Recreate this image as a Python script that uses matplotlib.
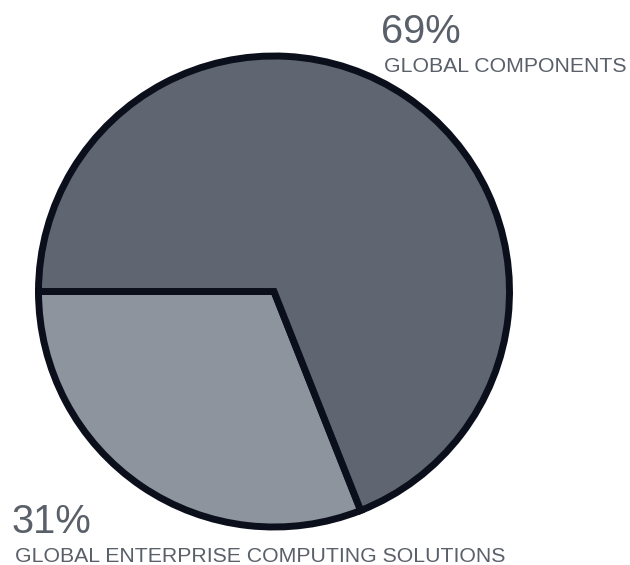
import matplotlib.pyplot as plt

# shares, in drawing order (counter-clockwise from 9 o'clock)
segments = ['GLOBAL ENTERPRISE COMPUTING SOLUTIONS', 'GLOBAL COMPONENTS']
shares = [31, 69]
pct_labels = ['31%', '69%']
colors = ['#8e949d', '#5f6571']

W, H = 630, 565
fig = plt.figure(figsize=(W / 100, H / 100), dpi=100)
ax = fig.add_axes([0, 0, 1, 1])

ax.pie(shares, colors=colors, startangle=180, counterclock=True,
       center=(274, H - 291.5), radius=235.5,
       wedgeprops=dict(edgecolor='#0b0f1c', linewidth=5, joinstyle='miter'))
ax.set_xlim(0, W)
ax.set_ylim(0, H)
ax.set_aspect('equal')
ax.axis('off')

txt = '#596069'
font = 'Liberation Sans'
# top label (big slice)
ax.text(381, H - 43, pct_labels[1], fontsize=28.7, color=txt, family=font,
        va='baseline', ha='left')
ax.text(384, H - 72, segments[1], fontsize=15.3, color=txt, family=font,
        va='baseline', ha='left')
# bottom label (small slice)
ax.text(12, H - 533, pct_labels[0], fontsize=28.7, color=txt, family=font,
        va='baseline', ha='left')
ax.text(15, H - 562, segments[0], fontsize=15.3, color=txt, family=font,
        va='baseline', ha='left')

fig.savefig('out.png', dpi=100)
